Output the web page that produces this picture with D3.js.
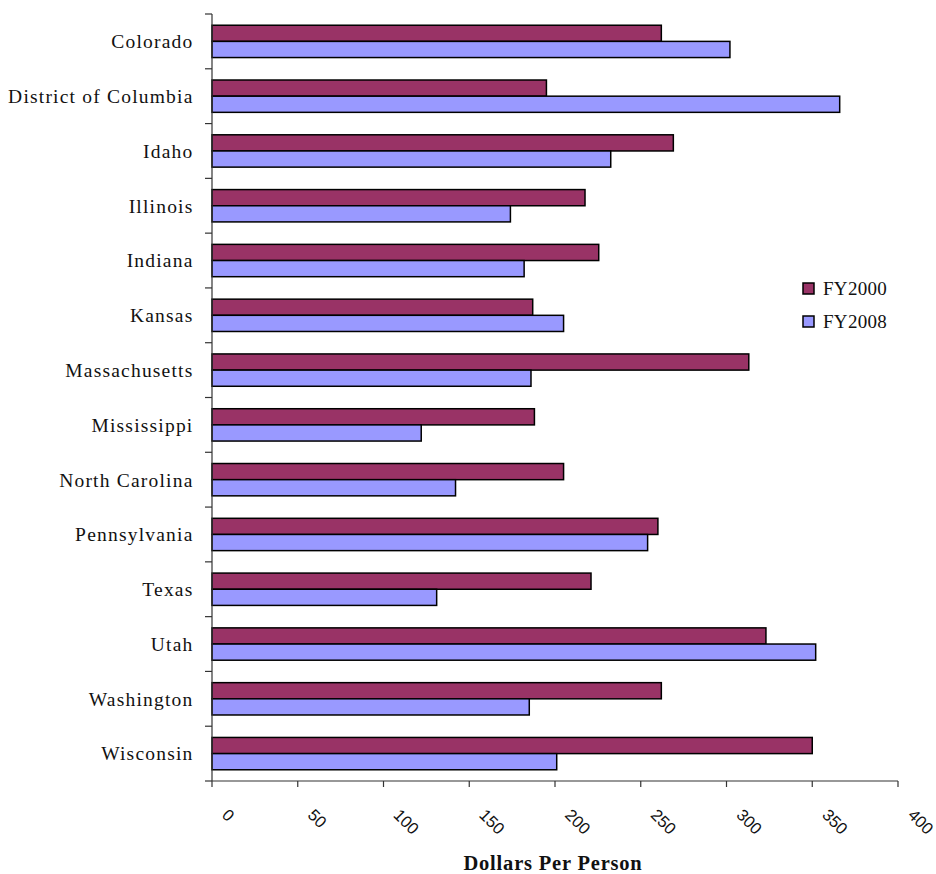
<!DOCTYPE html>
<html>
<head>
<meta charset="utf-8">
<script src="https://cdn.jsdelivr.net/npm/d3@7"></script>
<style>
  html, body { margin: 0; padding: 0; background: #fff; }
  svg { display: block; }
</style>
</head>
<body>
<svg id="chart" width="936" height="874"></svg>
<script>
// Per-person spending by state, two fiscal years
const states = ["Colorado", "District of Columbia", "Idaho", "Illinois", "Indiana", "Kansas",
  "Massachusetts", "Mississippi", "North Carolina", "Pennsylvania", "Texas", "Utah",
  "Washington", "Wisconsin"];
const fy2000 = [262, 195, 269, 217.5, 225.5, 187, 313, 188, 205, 260, 221, 323, 262, 350];
const fy2008 = [302, 366, 232.5, 174, 182, 205, 186, 122, 142, 254, 131, 352, 185, 201];
const seriesNames = ["FY2000", "FY2008"];
const seriesColors = ["#993366", "#9999FF"];
const xTicks = [0, 50, 100, 150, 200, 250, 300, 350, 400];
const xTitle = "Dollars Per Person";

const svg = d3.select("#chart");
const plot = { left: 212, right: 898, top: 14, bottom: 781 };

const x = d3.scaleLinear().domain([0, 400]).range([plot.left, plot.right]);
const y = d3.scaleBand().domain(states).range([plot.top, plot.bottom])
  .paddingInner(0.41).paddingOuter(0.205);
const sub = d3.scaleBand().domain(seriesNames).range([0, y.bandwidth()]);

const rows = states.map((s, i) => ({ state: s, values: [fy2000[i], fy2008[i]] }));

// bars
const g = svg.append("g");
rows.forEach(r => {
  r.values.forEach((v, k) => {
    g.append("rect")
      .attr("x", x(0))
      .attr("y", y(r.state) + sub(seriesNames[k]))
      .attr("width", x(v) - x(0))
      .attr("height", sub.bandwidth())
      .attr("fill", seriesColors[k])
      .attr("stroke", "#000")
      .attr("stroke-width", 1.5);
  });
});

// y axis: line with ticks between categories
const axisColor = "#333";
svg.append("line")
  .attr("x1", plot.left).attr("x2", plot.left)
  .attr("y1", plot.top).attr("y2", plot.bottom)
  .attr("stroke", axisColor).attr("stroke-width", 1.2);
const step = y.step();
d3.range(states.length + 1).forEach(i => {
  const yy = plot.top + i * step;
  svg.append("line")
    .attr("x1", plot.left - 7).attr("x2", plot.left)
    .attr("y1", yy).attr("y2", yy)
    .attr("stroke", axisColor).attr("stroke-width", 1.2);
});
svg.append("g").selectAll("text").data(states).join("text")
  .attr("x", 193.5)
  .attr("y", d => y(d) + y.bandwidth() / 2)
  .attr("dy", "0.35em")
  .attr("text-anchor", "end")
  .attr("font-family", "Liberation Serif, Times New Roman, serif")
  .attr("font-size", 19.5)
  .attr("letter-spacing", 1.2)
  .attr("fill", "#111")
  .text(d => d);

// x axis
svg.append("line")
  .attr("x1", plot.left).attr("x2", plot.right)
  .attr("y1", plot.bottom).attr("y2", plot.bottom)
  .attr("stroke", axisColor).attr("stroke-width", 1.2);
xTicks.forEach(t => {
  svg.append("line")
    .attr("x1", x(t)).attr("x2", x(t))
    .attr("y1", plot.bottom).attr("y2", plot.bottom + 6)
    .attr("stroke", axisColor).attr("stroke-width", 1.2);
  svg.append("text")
    .attr("transform", `translate(${x(t) + 9},816) rotate(45)`)
    .attr("text-anchor", "start")
    .attr("font-family", "Liberation Sans, Arial, sans-serif")
    .attr("font-size", 16.5)
    .attr("fill", "#111")
    .text(t);
});

svg.append("text")
  .attr("x", 553).attr("y", 870)
  .attr("text-anchor", "middle")
  .attr("font-family", "Liberation Serif, Times New Roman, serif")
  .attr("font-weight", "bold")
  .attr("font-size", 20.5)
  .attr("letter-spacing", 0.8)
  .attr("fill", "#111")
  .text(xTitle);

// legend
const legend = svg.append("g");
seriesNames.forEach((name, k) => {
  const ly = 283 + k * 33;
  legend.append("rect")
    .attr("x", 803).attr("y", ly)
    .attr("width", 11).attr("height", 11)
    .attr("fill", seriesColors[k])
    .attr("stroke", "#000").attr("stroke-width", 1.5);
  legend.append("text")
    .attr("x", 823).attr("y", ly + 12)
    .attr("font-family", "Liberation Serif, Times New Roman, serif")
    .attr("font-size", 19)
    .attr("letter-spacing", 0.3)
    .attr("fill", "#111")
    .text(name);
});
</script>
</body>
</html>
